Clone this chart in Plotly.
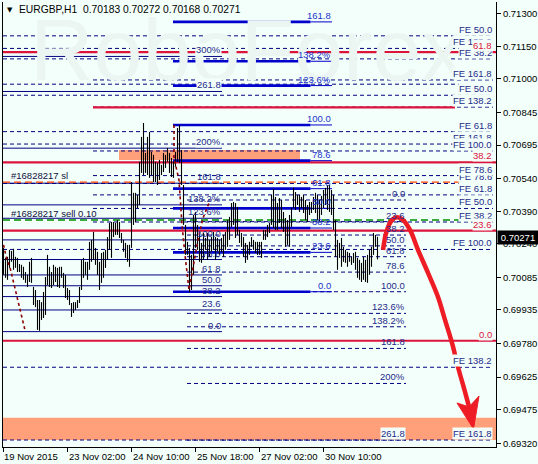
import plotly.graph_objects as go

# ---------------- data ----------------
symbol_title = "EURGBP,H1  0.70183 0.70272 0.70168 0.70271"
last_price = 0.70271

# H1 bar highs / lows in price points (1 point = 0.00001), bar index 0..187
high_pts = [
    70221, 70175, 70180, 70212, 70207, 70217, 70180, 70175, 70147, 70143,
    70134, 70110, 70097, 70157, 70175, 70041, 70027, 69981, 69981, 69971,
    70018, 70087, 70189, 70134, 70110, 70143, 70134, 70129, 70134, 70134,
    70106, 70097, 70036, 70027, 69967, 69971, 69971, 69981, 70041, 70166,
    70175, 70157, 70157, 70249, 70258, 70295, 70221, 70203, 70157, 70198,
    70203, 70212, 70271, 70336, 70341, 70341, 70336, 70350, 70341, 70290,
    70258, 70244, 70235, 70235, 70525, 70475, 70475, 70465, 70618, 70733,
    70797, 70659, 70733, 70756, 70664, 70650, 70618, 70613, 70627, 70604,
    70659, 70650, 70682, 70659, 70636, 70618, 70664, 70774, 70788, 70673,
    70511, 70327, 70249, 70221, 70189, 70373, 70387, 70327, 70281, 70244,
    70290, 70267, 70290, 70258, 70271, 70295, 70271, 70267, 70258, 70267,
    70281, 70295, 70350, 70364, 70428, 70433, 70428, 70410, 70304, 70290,
    70271, 70244, 70235, 70249, 70271, 70258, 70249, 70249, 70249, 70249,
    70304, 70304, 70327, 70336, 70465, 70493, 70456, 70428, 70451, 70442,
    70387, 70359, 70350, 70373, 70405, 70498, 70479, 70465, 70465, 70456,
    70465, 70442, 70419, 70433, 70433, 70456, 70475, 70465, 70442, 70461,
    70488, 70498, 70511, 70511, 70488, 70465, 70350, 70258, 70244, 70267,
    70226, 70212, 70203, 70198, 70180, 70198, 70203, 70175, 70166, 70152,
    70180, 70166, 70189, 70212, 70226, 70290, 70281, 70272,
]
low_pts = [
    70097, 70083, 70074, 70129, 70157, 70120, 70129, 70110, 70110, 70083,
    70074, 70060, 70041, 70064, 70060, 69958, 69948, 69843, 69839, 69889,
    69898, 69912, 70050, 70041, 70036, 70050, 70064, 70041, 70036, 70083,
    70036, 69990, 69981, 69958, 69903, 69921, 69935, 69944, 69967, 70027,
    70083, 70097, 70074, 70120, 70157, 70166, 70143, 70097, 70027, 70060,
    70083, 70129, 70166, 70212, 70175, 70271, 70281, 70281, 70267, 70244,
    70203, 70175, 70157, 70134, 70221, 70327, 70341, 70405, 70419, 70567,
    70557, 70567, 70557, 70544, 70557, 70525, 70525, 70511, 70534, 70557,
    70571, 70590, 70618, 70567, 70548, 70544, 70595, 70618, 70613, 70511,
    70327, 70189, 70189, 70018, 70027, 70097, 70221, 70212, 70157, 70152,
    70166, 70212, 70166, 70180, 70203, 70212, 70166, 70203, 70189, 70203,
    70180, 70212, 70226, 70258, 70318, 70327, 70267, 70281, 70244, 70226,
    70180, 70152, 70166, 70189, 70226, 70212, 70198, 70189, 70189, 70175,
    70258, 70258, 70271, 70290, 70327, 70313, 70304, 70304, 70336, 70313,
    70295, 70226, 70235, 70226, 70318, 70405, 70396, 70419, 70387, 70405,
    70382, 70350, 70341, 70373, 70382, 70396, 70382, 70350, 70341, 70373,
    70405, 70419, 70396, 70387, 70373, 70304, 70180, 70120, 70175, 70134,
    70157, 70152, 70134, 70157, 70143, 70152, 70120, 70083, 70074, 70064,
    70074, 70064, 70060, 70097, 70134, 70189, 70226, 70168,
]

# time axis (bar index of each tick) and labels
time_tick_bars = [0, 32, 64, 96, 128, 160]
time_tick_labels = ["19 Nov 2015", "23 Nov 02:00", "24 Nov 10:00",
                    "25 Nov 18:00", "27 Nov 02:00", "30 Nov 10:00"]

price_ticks = [0.71300, 0.71150, 0.71000, 0.70845, 0.70695, 0.70540, 0.70390,
               0.70240, 0.70085, 0.69935, 0.69780, 0.69625, 0.69475, 0.69320]

# Fibonacci retracement #1 (solid navy)
fib1_p0, fib1_p100 = 0.69835, 0.70258
fib1_levels = [0, 23.6, 38.2, 50, 61.8, 78.6, 100, 123.6, 138.2, 161.8, 200, 261.8, 300]
fib1_labels = ["0.0", "23.6", "38.2", "50.0", "61.8", "78.6", "100.0",
               "123.6%", "138.2%", "161.8", "200%", "261.8", "300%"]
fib1_bars = (-0.25, 109.25)

# Fibonacci retracement #2 (dashed navy)
fib2_p0, fib2_p100 = 0.70442, 0.70019
fib2_levels = [0, 23.6, 38.2, 50, 61.8, 78.6, 100, 123.6, 138.2, 161.8, 200, 261.8]
fib2_labels = ["0.0", "23.6", "38.2", "50.0", "61.8", "78.6", "100.0",
               "123.6%", "138.2%", "161.8", "200%", "261.8"]
fib2_bars = (91.75, 201.25)

# Fibonacci retracement #3 (thick blue)
fib3_p0, fib3_p100 = 0.70019, 0.70788
fib3_levels = [0, 23.6, 38.2, 50, 61.8, 78.6, 100, 123.6, 138.2, 161.8]
fib3_labels = ["0.0", "23.6", "38.2", "50.0", "61.8", "78.6", "100.0",
               "123.6%", "138.2%", "161.8"]
fib3_bars = (84.75, 164.25)

# Fibonacci retracement #4 (red)
fib4_p0, fib4_p100 = 0.69793, 0.71946
fib4_levels = [0, 23.6, 38.2, 61.8]
fib4_labels = ["0.0", "23.6", "38.2", "61.8"]
fib4_mid_level = 50

# Fibonacci expansions
fe1_base, fe1_unit = 0.70138, 0.00530
fe1_levels = [38.2, 50, 61.8, 78.6, 100, 138.2, 161.8]
fe1_start_bar = 44.75
fe2_base, fe2_unit = 0.71636, -0.01422
fe2_levels = [38.2, 50, 61.8, 78.6, 100, 138.2, 161.8]
fe3_prices = [0.71199, 0.71141, 0.70976, 0.70700]
fe3_labels = ["FE 50.0", "FE 138.2", "", "FE 161.8"]

# order lines
sl_price = 0.70524
entry_price = 0.70350
sl_text = "#16828217 sl"
entry_text = "#16828217 sell 0.10"

# zones
zone_top = (57.75, 148.25, 0.70627, 0.70673)
zone_bottom = (-0.25, 246.25, 0.69335, 0.69438)

# indicator (dotted) paths
dots_a_bar = [0, 1.5, 3.3, 5, 6.6, 8.3, 10, 10.8]
dots_a_price = [0.70235, 0.70175, 0.70129, 0.70064, 0.70004, 0.69926, 0.69866, 0.69839]
dots_b_bar = [85.25, 85.25, 87.75, 89.25, 90.75, 92.75, 94.75, 97.25, 99.75, 102.75]
dots_b_price = [0.70788, 0.70636, 0.70534, 0.70327, 0.70189, 0.70027, 0.70129,
                0.70258, 0.70359, 0.70428]

# forecast arrow path
fc_bar = [189.75, 191.6, 194.1, 196.75, 199.75, 203.25, 207.25, 212.25, 217.25,
          220.75, 224.25, 227.25, 230.75, 232.75]
fc_price = [0.70212, 0.70299, 0.70348, 0.70362, 0.70350, 0.70304, 0.70212, 0.70106,
            0.69995, 0.69889, 0.69783, 0.69672, 0.69557, 0.69488]
fc_head_bar = [235.0, 226.75, 232.75, 237.75, 235.0]
fc_head_price = [0.69386, 0.69506, 0.69488, 0.69538, 0.69386]

# ---------------- styling ----------------
BG = "#F3FFFA"
NAVY = "#000080"
LBL_NAVY = "#1F2A8A"
BLUE = "#0000CD"
RED = "#DC143C"
FONT = "Liberation Sans, Arial, sans-serif"
FS = 9.5
X_LEFT, X_RIGHT, X_LABEL = -0.25, 246.25, 244.75

highs = [v / 1e5 for v in high_pts]
lows = [v / 1e5 for v in low_pts]

fig = go.Figure()

shapes = []
annos = []


def hline(x0, x1, y, color, width=1, dash="solid"):
    shapes.append(dict(type="line", xref="x", yref="y", x0=x0, x1=x1, y0=y, y1=y,
                       line=dict(color=color, width=width, dash=dash), layer="below"))


def label(x, y, text, color, anchor="right", bg=True):
    if not text:
        return
    annos.append(dict(x=x, y=y, xref="x", yref="y", text=text, showarrow=False,
                      xanchor=anchor, yanchor="bottom", borderpad=0,
                      bgcolor=BG if bg else None,
                      font=dict(family=FONT, size=FS, color=color)))


# zones
for z in (zone_top, zone_bottom):
    shapes.append(dict(type="rect", xref="x", yref="y", x0=z[0], x1=z[1], y0=z[2], y1=z[3],
                       fillcolor="#FFA07A", line=dict(width=0), layer="below"))

DASH = "4px,3px"

# FE set 2 and extra (full width)
fe2_prices = [fe2_base + fe2_unit * r / 100 for r in fe2_levels]
for p in fe2_prices:
    hline(X_LEFT, X_LABEL, p, NAVY, 1, DASH)
for p in fe3_prices:
    hline(X_LEFT, X_LABEL, p, NAVY, 1, DASH)
# FE set 1
fe1_prices = [fe1_base + fe1_unit * r / 100 for r in fe1_levels]
for p in fe1_prices:
    hline(fe1_start_bar, X_LABEL, p, NAVY, 1, DASH)

# fib 1
fib1_prices = [fib1_p0 + (fib1_p100 - fib1_p0) * r / 100 for r in fib1_levels]
for p in fib1_prices:
    hline(fib1_bars[0], fib1_bars[1], p, NAVY, 1)
# fib 2
fib2_prices = [fib2_p0 + (fib2_p100 - fib2_p0) * r / 100 for r in fib2_levels]
for p in fib2_prices:
    hline(fib2_bars[0], fib2_bars[1], p, NAVY, 1, DASH)

# order lines
hline(X_LEFT, 228.25, sl_price, "#FF4500", 1.3, "7px,4px")
hline(X_LEFT, 228.25, entry_price, "#009000", 1.5, "7px,4px")

# red fib
fib4_prices = [fib4_p0 + (fib4_p100 - fib4_p0) * r / 100 for r in fib4_levels]
for p in fib4_prices:
    hline(X_LEFT, X_RIGHT, p, RED, 2.2)
hline(fe1_start_bar, 225.75, fib4_p0 + (fib4_p100 - fib4_p0) * fib4_mid_level / 100, RED, 2.2)

# fib 3 (thick blue)
fib3_prices = [fib3_p0 + (fib3_p100 - fib3_p0) * r / 100 for r in fib3_levels]
for p in fib3_prices:
    hline(fib3_bars[0], 153.5, p, BLUE, 2.6)
    hline(153.5, fib3_bars[1], p, BLUE, 1)

# labels
for p, t, r in zip(fib1_prices, fib1_labels, fib1_levels):
    label(fib1_bars[1], p, t, LBL_NAVY, bg=(r >= 200))
for p, t, r in zip(fib2_prices, fib2_labels, fib2_levels):
    label(fib2_bars[1], p, t, LBL_NAVY, bg=(r > 250))
for p, t in zip(fib3_prices, fib3_labels):
    label(fib3_bars[1], p, t, "#2233CC", bg=False)
for p, r in zip(fe3_prices, fe3_labels):
    label(X_LABEL, p, r, LBL_NAVY)
for p, r in zip(fe2_prices, fe2_levels):
    label(X_LABEL, p, "FE %.1f" % r, LBL_NAVY)
for p, r in zip(fe1_prices, fe1_levels):
    label(X_LABEL, p, "FE %.1f" % r, LBL_NAVY)
for p, t in zip(fib4_prices, fib4_labels):
    label(X_LABEL, p, t, RED)
label(3.0, sl_price, sl_text, "#101040", anchor="left", bg=False)
label(3.0, entry_price, entry_text, "#101040", anchor="left", bg=False)

# price bars (high-low)
bx, by = [], []
for i, (h, l) in enumerate(zip(highs, lows)):
    bx += [i, i, None]
    by += [l, h, None]
fig.add_trace(go.Scatter(x=bx, y=by, mode="lines", line=dict(color="black", width=1.1),
                         hoverinfo="skip", showlegend=False))

# dotted indicator lines
for xs, ys in ((dots_a_bar, dots_a_price), (dots_b_bar, dots_b_price)):
    fig.add_trace(go.Scatter(x=xs, y=ys, mode="lines",
                             line=dict(color="#8B0000", width=1.6, dash="dot"),
                             hoverinfo="skip", showlegend=False))

# forecast arrow
fig.add_trace(go.Scatter(x=fc_bar, y=fc_price, mode="lines",
                         line=dict(color="#EE1C24", width=4.5, shape="spline"),
                         hoverinfo="skip", showlegend=False))
fig.add_trace(go.Scatter(x=fc_head_bar, y=fc_head_price, mode="lines", fill="toself",
                         fillcolor="#EE1C24", line=dict(color="#EE1C24", width=1),
                         hoverinfo="skip", showlegend=False))

# plot geometry (pixels)
W, H = 538, 464
ML, MR, MT, MB = 3, 42, 2, 17
PW, PH = W - ML - MR, H - MT - MB


def px(xp):
    return (xp - ML) / PW


def py(yp):
    return (H - MB - yp) / PH


# watermark
annos.insert(0, dict(x=px(28), y=py(50), xref="paper", yref="paper", text="RoboForex",
                     showarrow=False, xanchor="left", yanchor="middle",
                     font=dict(family=FONT, size=88, color="#EBF6F3")))
# title
annos.append(dict(x=px(5), y=py(10), xref="paper", yref="paper", text="▼",
                  showarrow=False, xanchor="left", yanchor="middle",
                  font=dict(family="DejaVu Sans", size=7, color="black")))
annos.append(dict(x=px(17), y=py(10), xref="paper", yref="paper", text=symbol_title,
                  showarrow=False, xanchor="left", yanchor="middle",
                  font=dict(family=FONT, size=10.3, color="black")))
# time labels
for b, t in zip(time_tick_bars, time_tick_labels):
    annos.append(dict(x=b, y=0, xref="x", yref="paper", text=t, showarrow=False,
                      xanchor="left", yanchor="top", yshift=-2, xshift=-1 if b else -2,
                      font=dict(family=FONT, size=FS, color="black")))
# current price box
annos.append(dict(x=1, y=last_price, xref="paper", yref="y", text="%.5f" % last_price,
                  showarrow=False, xanchor="left", yanchor="middle", xshift=1,
                  bgcolor="black", borderpad=1, width=38,
                  font=dict(family=FONT, size=FS, color="white")))

fig.update_layout(
    width=W, height=H,
    margin=dict(l=ML, r=MR, t=MT, b=MB, autoexpand=False),
    paper_bgcolor=BG, plot_bgcolor=BG,
    shapes=shapes, annotations=annos,
    showlegend=False,
    xaxis=dict(range=[X_LEFT, X_RIGHT], showgrid=False, zeroline=False, automargin=False,
               tickvals=time_tick_bars, showticklabels=False,
               ticks="outside", ticklen=4, tickcolor="black",
               showline=True, linecolor="black", linewidth=1),
    yaxis=dict(range=[0.69303, 0.71355], side="right", showgrid=False, zeroline=False,
               automargin=False,
               tickvals=price_ticks, ticktext=["%.5f" % v for v in price_ticks],
               ticks="outside", ticklen=4, tickcolor="black",
               tickfont=dict(family=FONT, size=FS, color="black"),
               showline=True, linecolor="black", linewidth=1, mirror=True),
)

fig.write_html("out.html", config={"displayModeBar": False},
               post_script="document.body.style.margin='0px';document.body.style.overflow='hidden';")
